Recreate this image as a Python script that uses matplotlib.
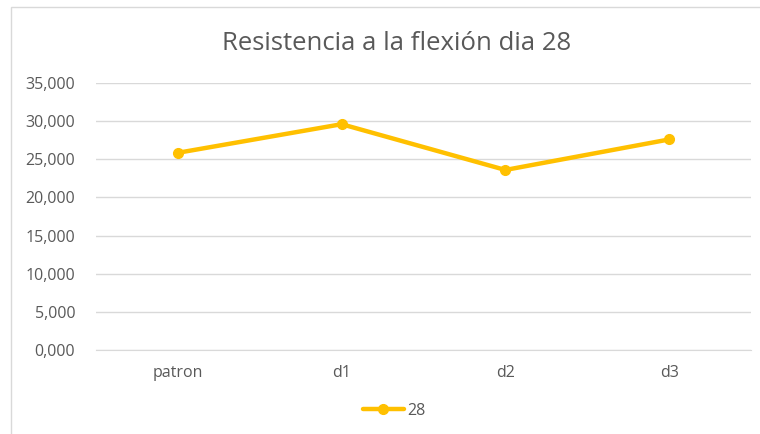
import matplotlib.pyplot as plt
from matplotlib.ticker import FuncFormatter
import numpy as np

plt.rcParams['font.family'] = ['Open Sans', 'DejaVu Sans']

categories = ["patron", "d1", "d2", "d3"]
values = [25850, 29600, 23600, 27600]
series_name = "28"
yticks = np.arange(0, 35001, 5000)

fig = plt.figure(figsize=(7.6, 4.34), dpi=100)
ax = fig.add_axes([96 / 760, 1 - 350 / 434, (751 - 96) / 760, (350 - 83) / 434])

# light chart frame like the spreadsheet export
frame = plt.Rectangle((11 / 760, -0.1), 1.2, 1.1 - 7 / 434, transform=fig.transFigure,
                      fill=False, edgecolor="#d9d9d9", linewidth=1.0)
fig.patches.append(frame)

x = np.arange(len(categories))
ax.plot(x, values, color="#FFC000", linewidth=3.2, marker="o", markersize=7,
        label=series_name, solid_capstyle="round")

ax.set_xlim(-0.5, len(categories) - 0.5)
ax.set_ylim(0, 35000)
ax.set_yticks(yticks)
ax.yaxis.set_major_formatter(FuncFormatter(lambda v, p: f"{int(v / 1000)},000"))
ax.set_xticks(x)
ax.set_xticklabels(categories)
ax.grid(axis="y", color="#d9d9d9", linewidth=1.0)
ax.set_axisbelow(True)
for s in ["top", "right", "left"]:
    ax.spines[s].set_visible(False)
ax.spines["bottom"].set_color("#d9d9d9")
ax.tick_params(axis="both", length=0, labelsize=11.5, colors="#595959")
ax.tick_params(axis="y", pad=15)
ax.tick_params(axis="x", pad=11)

fig.text(397 / 760, 1 - 43 / 434, "Resistencia a la flexión dia 28", ha="center", va="center",
         fontsize=18.5, color="#595959")

fig.legend(loc="center", bbox_to_anchor=(394 / 760, 1 - 411 / 434), frameon=False,
           fontsize=11.5, labelcolor="#595959", handlelength=2.6, handletextpad=0.2)

fig.savefig("out.png", dpi=100, facecolor="white")
